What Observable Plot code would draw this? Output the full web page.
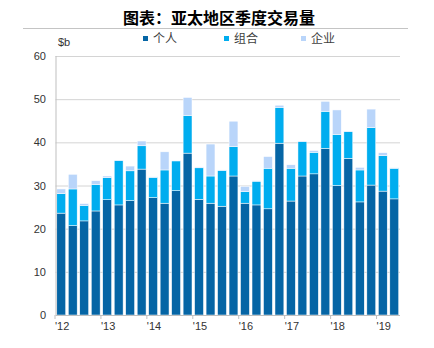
<!DOCTYPE html>
<html><head><meta charset="utf-8">
<script src="https://cdn.jsdelivr.net/npm/d3@7"></script>
<script src="https://cdn.jsdelivr.net/npm/@observablehq/plot@0.6"></script>
<style>
body{margin:0;background:#fff;}
#wrap{position:relative;width:434px;height:348px;overflow:hidden;font-family:"Liberation Sans",Arial,sans-serif;}
#title{position:absolute;left:0;width:438px;top:7px;text-align:center;font-family:"Noto Sans CJK SC",sans-serif;font-weight:700;font-size:16px;line-height:20px;color:#000;}
#hr{position:absolute;left:23px;width:385px;top:28px;height:0;border-top:1px solid #c4c4c4;}
#legend{position:absolute;top:30px;left:0;width:434px;height:16px;font-family:"Noto Sans CJK SC",sans-serif;font-size:12px;color:#404040;}
.li{position:absolute;top:0;line-height:16px;}
.sw{position:absolute;width:5px;height:5px;top:6px;}
#unit{position:absolute;left:58px;top:36px;font-size:11px;color:#333;}
#chart{position:absolute;left:0;top:48px;}
</style></head>
<body><div id="wrap">
<div id="title">图表：亚太地区季度交易量</div>
<div id="hr"></div>
<div id="legend"></div>
<div id="unit">$b</div>
<div id="chart"></div>
</div>
<script>
const seriesNames = ["个人", "组合", "企业"];
const seriesColors = ["#0565a5", "#00adef", "#b9d5fa"];
const yearLabels = ["'12", "'13", "'14", "'15", "'16", "'17", "'18", "'19"];
const quarters = ["2012Q1","2012Q2","2012Q3","2012Q4","2013Q1","2013Q2","2013Q3","2013Q4",
 "2014Q1","2014Q2","2014Q3","2014Q4","2015Q1","2015Q2","2015Q3","2015Q4",
 "2016Q1","2016Q2","2016Q3","2016Q4","2017Q1","2017Q2","2017Q3","2017Q4",
 "2018Q1","2018Q2","2018Q3","2018Q4","2019Q1","2019Q2"];
const individual = [23.6,20.7,21.8,24.1,26.7,25.5,26.5,33.8,27.2,25.9,28.8,37.5,26.8,25.9,25.2,32.2,
 25.9,25.5,24.6,39.8,26.4,32.2,32.7,38.6,30.0,36.3,26.2,30.1,28.7,26.9];
const portfolio = [4.5,8.5,3.6,6.1,5.1,10.3,6.9,5.4,4.7,7.7,6.9,8.7,7.3,6.3,8.3,6.8,
 2.7,5.5,9.4,8.3,7.6,8.0,5.0,8.6,11.8,6.2,7.4,13.3,8.2,7.1];
const entity = [1.1,3.4,0.4,0.9,0.4,0.1,1.1,1.1,0.1,4.2,0.1,4.2,0.2,7.4,0.1,5.9,
 1.2,0.1,2.7,0.5,0.8,0.1,0.4,2.3,5.7,0.1,0.6,4.3,0.7,0.1];

const series = [individual, portfolio, entity];
const rows = [];
quarters.forEach((q, i) => {
  let base = 0;
  series.forEach((vals, s) => {
    rows.push({q, i, s: seriesNames[s], y1: base, y2: base + vals[i]});
    base += vals[i];
  });
});

const tickPos = yearLabels.map((_, k) => k * 4);

const chart = Plot.plot({
  width: 434,
  height: 290,
  marginLeft: 55.5,
  marginRight: 34,
  marginTop: 8,
  marginBottom: 23,
  style: {fontFamily: "'Liberation Sans', Arial, sans-serif", fontSize: "11px", color: "#333", background: "#fff"},
  x: {domain: [0, quarters.length], axis: null},
  y: {domain: [0, 60], axis: null},
  color: {domain: seriesNames, range: seriesColors},
  marks: [
    Plot.gridY(d3.range(10, 61, 10), {stroke: "#d4d4d4", strokeOpacity: 1, strokeWidth: 1}),
    Plot.rectY(rows, {x1: "i", x2: d => d.i + 1, y1: "y1", y2: "y2", fill: "s",
      insetLeft: 1.3, insetRight: 1.3, stroke: "white", strokeWidth: 0.5}),
    Plot.ruleX([0], {stroke: "#bfbfbf"}),
    Plot.ruleY([0], {stroke: "#bfbfbf"}),
    Plot.axisY(d3.range(0, 61, 10), {tickSize: 0, tickPadding: 10, fill: "#333", label: null}),
    Plot.axisX(tickPos, {tickSize: 4, stroke: "#bfbfbf", tickPadding: 3, textAnchor: "start", dx: -1,
      tickFormat: (d) => yearLabels[d / 4], fill: "#333", label: null})
  ]
});
document.getElementById("chart").appendChild(chart);

const lx = [143, 224, 301];
const leg = document.getElementById("legend");
seriesNames.forEach((n, k) => {
  const sw = document.createElement("div");
  sw.className = "sw"; sw.style.left = lx[k] + "px"; sw.style.background = seriesColors[k];
  leg.appendChild(sw);
  const t = document.createElement("div");
  t.className = "li"; t.style.left = (lx[k] + 10) + "px"; t.textContent = n;
  leg.appendChild(t);
});
</script>
</body></html>
